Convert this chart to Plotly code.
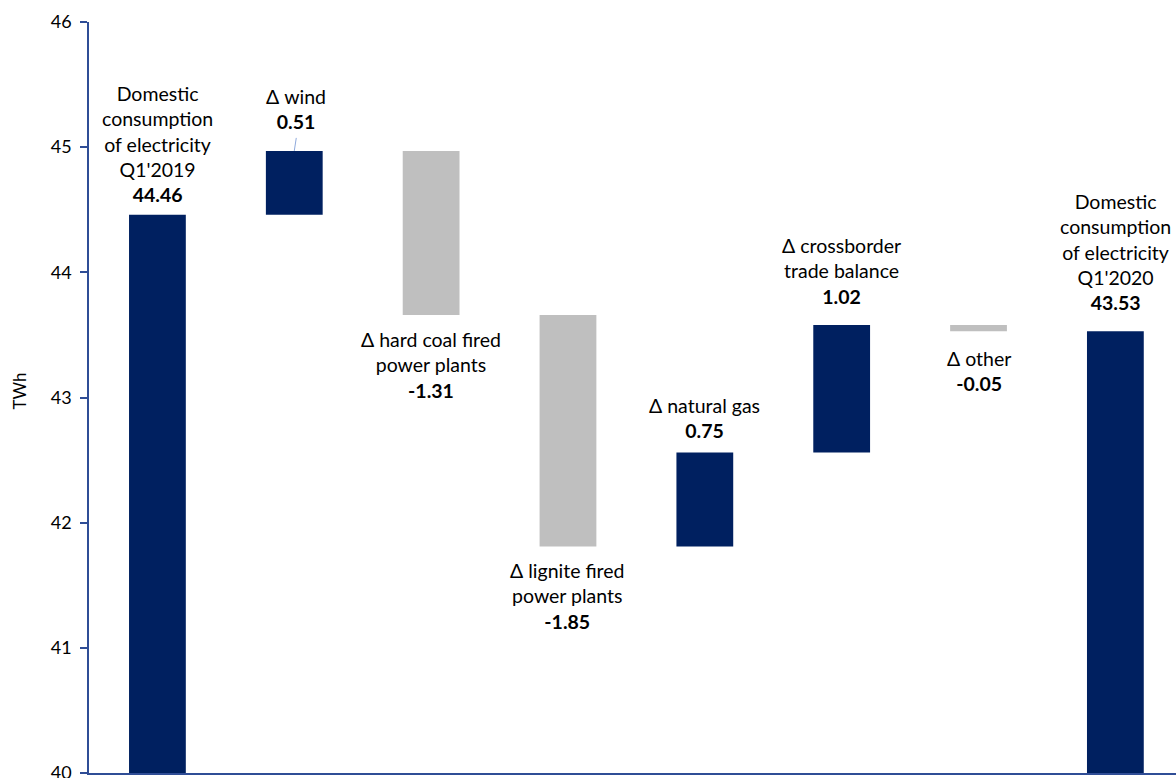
import plotly.graph_objects as go

categories = [
    "Domestic<br>consumption<br>of electricity<br>Q1'2019",
    "Δ wind",
    "Δ hard coal fired<br>power plants",
    "Δ lignite fired<br>power plants",
    "Δ natural gas",
    "Δ crossborder<br>trade balance",
    "Δ other",
    "Domestic<br>consumption<br>of electricity<br>Q1'2020",
]
values = [44.46, 0.51, -1.31, -1.85, 0.75, 1.02, -0.05, 43.53]
kinds = ["total", "delta", "delta", "delta", "delta", "delta", "delta", "total"]
label_side = ["above", "leader", "below", "below", "above", "above", "below", "above"]
label_shift = [7, 0, -11, -11, 9, 15, -14, 15]
y_ticks = [40, 41, 42, 43, 44, 45, 46]

NAVY = "#002060"
GREY = "#BFBFBF"
AXIS = "#2F4D96"
FONT = "Lato"

bases, heights, colors = [], [], []
level = 0.0
for v, k in zip(values, kinds):
    if k == "total":
        bases.append(0.0)
        heights.append(v)
        level = v
        colors.append(NAVY)
    else:
        if v >= 0:
            bases.append(level)
            heights.append(v)
            colors.append(NAVY)
        else:
            bases.append(level + v)
            heights.append(-v)
            colors.append(GREY)
        level += v

xs = list(range(len(categories)))

fig = go.Figure()
fig.add_trace(go.Bar(
    x=xs, y=heights, base=bases,
    marker=dict(color=colors, line=dict(width=0)),
    width=0.415,
    hoverinfo="skip",
))

lab_font = dict(family=FONT, size=19.5, color="#000000")
annotations = []
for i, (cat, v, side, sh) in enumerate(zip(categories, values, label_side, label_shift)):
    top = bases[i] + heights[i]
    bot = bases[i]
    txt = f"{cat}<br><b>{v:.2f}</b>"
    if side == "leader":
        annotations.append(dict(
            x=i, y=top, text=txt, showarrow=True, arrowhead=0, arrowwidth=1,
            arrowcolor="#8FAADC", ax=2, ay=-13, xanchor="center", yanchor="bottom",
            borderpad=4, font=lab_font,
        ))
    elif side == "above":
        annotations.append(dict(
            x=i, y=top, text=txt, showarrow=False, yanchor="bottom", yshift=sh,
            font=lab_font,
        ))
    else:
        annotations.append(dict(
            x=i, y=bot, text=txt, showarrow=False, yanchor="top", yshift=sh,
            font=lab_font,
        ))

annotations.append(dict(
    xref="paper", yref="paper", x=0, y=0.5, xshift=-70, yshift=6, text="TWh",
    xanchor="center", yanchor="middle",
    textangle=-90, showarrow=False, font=dict(family=FONT, size=17, color="#000000"),
))

fig.update_layout(
    width=1176, height=778,
    margin=dict(l=89, r=0, t=22, b=5, autoexpand=False),
    paper_bgcolor="white", plot_bgcolor="white",
    showlegend=False,
    font=dict(family=FONT, color="#000000"),
    annotations=annotations,
    xaxis=dict(
        range=[-0.5, 7.443], showgrid=False, zeroline=False, automargin=False,
        showline=True, linecolor=AXIS, linewidth=1.5,
        showticklabels=False, ticks="",
    ),
    yaxis=dict(
        range=[40, 46], tickvals=y_ticks, showgrid=False, zeroline=False,
        automargin=False,
        showline=True, linecolor=AXIS, linewidth=1.5,
        ticks="outside", ticklen=7, tickcolor=AXIS, tickwidth=1.5,
        tickfont=dict(family=FONT, size=18, color="#000000"),
        ticklabelstandoff=5, ticklabeloverflow="allow",
    ),
)

fig.write_html("out.html")
